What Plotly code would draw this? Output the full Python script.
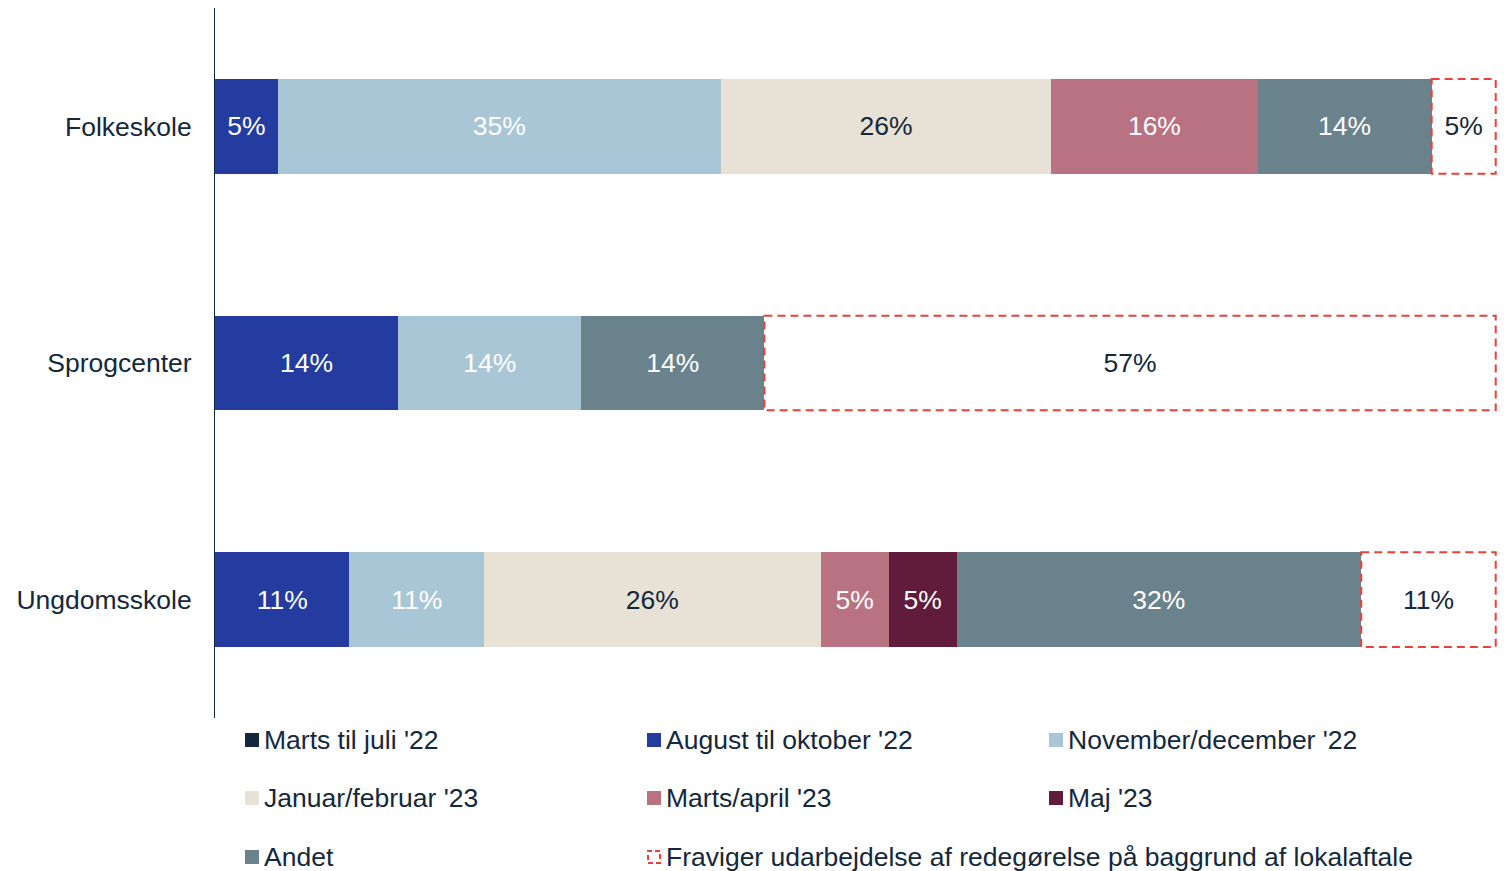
import math
import plotly.graph_objects as go

categories = ["Folkeskole", "Sprogcenter", "Ungdomsskole"]

series_names = [
    "Marts til juli '22",
    "August til oktober '22",
    "November/december '22",
    "Januar/februar '23",
    "Marts/april '23",
    "Maj '23",
    "Andet",
    "Fraviger udarbejdelse af redegørelse på baggrund af lokalaftale",
]
marts_juli = [0, 0, 0]
aug_okt = [4.9, 14.3, 10.5]
nov_dec = [34.6, 14.3, 10.5]
jan_feb = [25.8, 0, 26.3]
marts_april = [16.1, 0, 5.3]
maj = [0, 0, 5.3]
andet = [13.6, 14.3, 31.6]
fraviger = [5.0, 57.1, 10.5]

series_values = [marts_juli, aug_okt, nov_dec, jan_feb, marts_april, maj, andet, fraviger]
colors = ["#13283c", "#243ba0", "#a8c6d6", "#e8e1d6", "#b97282", "#621c3b", "#6a828b", "#ffffff"]
text_colors = ["white", "white", "white", "#14283c", "white", "white", "white", "#14283c"]
RED = "#e8403a"
NAVY = "#14283c"
FONT = "Liberation Sans, Arial, sans-serif"
FS = 26.5


def pct(v):
    return f"{math.floor(v + 0.5)}%" if v > 0 else ""


fig = go.Figure()
for name, vals, col, tcol in zip(series_names, series_values, colors, text_colors):
    fig.add_trace(go.Bar(
        y=categories, x=vals, name=name, orientation="h",
        marker=dict(color=col, line=dict(width=0)),
        text=[pct(v) for v in vals],
        textposition="inside", insidetextanchor="middle", textangle=0,
        constraintext="none",
        textfont=dict(size=FS, color=tcol, family=FONT),
        showlegend=False, hoverinfo="skip",
    ))

# dashed outlines for the "Fraviger" segments, derived from the data
bar_half = 0.2
for i, cat in enumerate(categories):
    base = sum(s[i] for s in series_values[:-1])
    v = fraviger[i]
    if v > 0:
        fig.add_shape(type="rect", xref="x", yref="y",
                      x0=base, x1=base + v, y0=i - bar_half, y1=i + bar_half,
                      line=dict(color=RED, width=2, dash="8px,5px"), layer="above")

# figure is placed at (8, 8) in the page by the body margin
OFF = 8
W, H = 1500, 863
ml, mr, mt, mb = 207, 11, 0, 153
pw, ph = W - ml - mr, H - mt - mb


def px(xp):
    return (xp - OFF - ml) / pw


def py(yp):
    return (H - mb - (yp - OFF)) / ph


# manual legend (3 columns), page pixel positions
col_x = [245, 647, 1049]
row_y = [740, 798, 857]
sq = 14
for k, (name, col) in enumerate(zip(series_names, colors)):
    r, c = divmod(k, 3)
    x0 = col_x[c]
    yc = row_y[r]
    if k == len(series_names) - 1:
        fig.add_shape(type="rect", xref="paper", yref="paper",
                      x0=px(x0 + 1), x1=px(x0 + sq - 1), y0=py(yc + sq / 2 - 1), y1=py(yc - sq / 2 + 1),
                      line=dict(color=RED, width=2, dash="5px,3px"), fillcolor="white")
    else:
        fig.add_shape(type="rect", xref="paper", yref="paper",
                      x0=px(x0), x1=px(x0 + sq), y0=py(yc + sq / 2), y1=py(yc - sq / 2),
                      line=dict(width=0), fillcolor=col)
    fig.add_annotation(x=px(x0 + sq + 3), y=py(yc), xref="paper", yref="paper",
                       text=name, showarrow=False, xanchor="left", yanchor="middle",
                       font=dict(size=FS, color=NAVY, family=FONT))

fig.update_layout(
    width=W, height=H,
    barmode="stack", bargap=0.6,
    margin=dict(l=ml, r=mr, t=mt, b=mb),
    plot_bgcolor="white", paper_bgcolor="white",
    font=dict(family=FONT, color=NAVY, size=FS),
)
fig.update_xaxes(range=[0, 100.1], showticklabels=False, showgrid=False, zeroline=False, showline=False)
fig.update_yaxes(autorange="reversed", showgrid=False, zeroline=False,
                 showline=True, linecolor=NAVY, linewidth=1, ticks="",
                 ticklabelstandoff=17, tickfont=dict(size=FS, color=NAVY, family=FONT))

fig.write_html("out.html")
